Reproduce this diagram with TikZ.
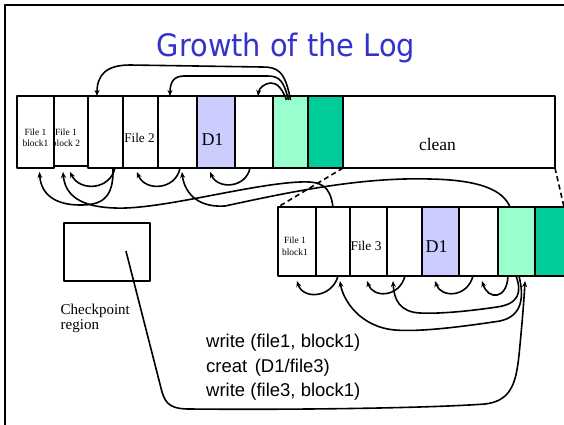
\documentclass[tikz,border=0pt]{standalone}
\usepackage{fontspec}
\setmainfont{Liberation Serif}
\newfontfamily\headfont{DejaVu Sans}
\newfontfamily\opsfont{Liberation Sans}
\usetikzlibrary{arrows.meta,calc}
\definecolor{titleblue}{RGB}{51,51,204}
\definecolor{dirblue}{RGB}{204,204,255}
\definecolor{livegreen}{RGB}{153,255,204}
\definecolor{tailgreen}{RGB}{0,204,153}
\tikzset{
  cell/.style={draw, line width=1.9pt, inner sep=0pt, outer sep=0pt,
               anchor=north west, minimum height=72pt},
  lcell/.style={cell, minimum height=69pt},
  ptr/.style={line width=1.6pt, -{Stealth[length=6pt,width=5pt]}},
  seam/.style={line width=1.6pt, dash pattern=on 5pt off 3.5pt},
  lbl/.style={inner sep=0pt, align=center},
}
\begin{document}
\begin{tikzpicture}[x=1pt, y=-1pt, line join=round]
  \clip (0,0) rectangle (564,424);
  \fill[white] (0,0) rectangle (564,424);
  % slide frame
  \draw[line width=2.2pt] (5,430) -- (5,5) -- (570,5);

  % title
  \node[anchor=base, inner sep=0pt, text=titleblue,
        font=\headfont\fontsize{31}{31}\selectfont, xscale=0.93]
        (title) at (286,56.5) {Growth of the Log};

  % ---------- log before the writes ----------
  \node[cell, minimum width=37pt] (u1) at (17,96) {};
  \node[cell, minimum width=34pt, minimum height=70pt] (u2) at (54,96) {};
  \node[cell, minimum width=35pt] (u3) at (88,96) {};
  \node[cell, minimum width=35pt] (u4) at (123,96) {};
  \node[cell, minimum width=39pt] (u5) at (158,96) {};
  \node[cell, minimum width=38pt, fill=dirblue] (u6) at (197,96) {};
  \node[cell, minimum width=38pt] (u7) at (235,96) {};
  \node[cell, minimum width=35pt, fill=livegreen] (u8) at (273,96) {};
  \node[cell, minimum width=35pt, fill=tailgreen] (u9) at (308,96) {};
  \node[cell, minimum width=212pt] (u10) at (343,96) {};

  \node[lbl, font=\fontsize{9.5}{11}\selectfont] (t1) at (35.5,137.5) {File 1\\block1};
  \begin{scope}
    \clip (55,96) rectangle (88,166);
    \node[lbl, font=\fontsize{9.5}{11}\selectfont] (t2) at (66,137.5) {File 1\\block 2};
  \end{scope}
  \node[lbl, anchor=base, font=\fontsize{13.2}{14}\selectfont] (t3) at (139.5,142.7) {File 2};
  \node[lbl, anchor=base, font=\fontsize{18}{20}\selectfont] (t4) at (212.5,145) {D1};
  \node[lbl, anchor=base, font=\fontsize{17.5}{20}\selectfont] (t5) at (437.5,150) {clean};

  % ---------- log after the writes ----------
  \node[lcell, minimum width=38pt] (l1) at (278,207) {};
  \node[lcell, minimum width=34pt] (l2) at (316,207) {};
  \node[lcell, minimum width=37pt] (l3) at (350,207) {};
  \node[lcell, minimum width=35pt] (l4) at (387,207) {};
  \node[lcell, minimum width=37pt, fill=dirblue] (l5) at (422,207) {};
  \node[lcell, minimum width=39pt] (l6) at (459,207) {};
  \node[lcell, minimum width=37pt, fill=livegreen] (l7) at (498,207) {};
  \node[lcell, minimum width=37pt, fill=tailgreen] (l8) at (535,207) {};

  \node[lbl, font=\fontsize{9.5}{12}\selectfont] (t6) at (295,246.7) {File 1\\block1};
  \node[lbl, anchor=base, font=\fontsize{13.4}{14}\selectfont] (t7) at (366,250.7) {File 3};
  \node[lbl, anchor=base, font=\fontsize{18}{20}\selectfont] (t8) at (436.5,252.3) {D1};

  % zoom lines from the clean region to the new log
  \coordinate (logend) at ($(l8.north)+(10.5,0)$);
  \draw[seam] (u9.south east) -- (l1.north west);
  \draw[seam] (u10.south east) -- (logend);

  % checkpoint region
  \node[draw, line width=1.9pt, minimum width=86pt, minimum height=58pt,
        anchor=north west, inner sep=0pt] (cp) at (63,222) {};
  \node[anchor=north west, inner sep=0pt, align=left,
        font=\fontsize{15}{15.5}\selectfont] (cptext) at (60.5,303.5) {Checkpoint\\region};

  % operations
  \node[anchor=north west, inner sep=0pt, align=left,
        font=\opsfont\fontsize{18.5}{24.5}\selectfont] (ops) at (206,334.2)
        {write (file1, block1)\\creat\hspace{7.5pt}(D1/file3)\\write (file3, block1)};

  % ---------- pointers of the old log ----------
  \draw[ptr] ($(u8.north)+(0,4)$) .. controls (285,70) and (277,67) .. (262,67)
        -- (130,65) .. controls (106,65) and (97,75) .. ($(u3.north)+(-8.5,0)$);
  \draw[ptr] ($(u8.north)+(-2,4)$) .. controls (284,82) and (280,76) .. (268,76)
        -- (184,76) .. controls (174,76) and (170,82) .. ($(u5.north)+(-7.5,0)$);
  \draw[ptr] ($(u8.north)+(-4,4)$) .. controls (282,88) and (277,83) .. (271,83)
        .. controls (265,83) and (259,88) .. ($(u7.north)+(4,0)$);

  \draw[ptr] ($(u3.south)+(7.5,0)$) .. controls (114,200) and (100,205) .. (80,205)
        .. controls (56,205) and (41,195) .. ($(u1.south)+(4,4)$);
  \draw[ptr] ($(u3.south)+(9.5,0)$) .. controls (110,190) and (80,192) .. ($(u2.south)+(-1,6)$);
  \draw[ptr] ($(u5.south)+(2.5,0)$) .. controls (176,190) and (145,192) .. ($(u4.south)+(-3.5,4)$);
  \draw[ptr] ($(u7.south)+(-4,0)$) .. controls (246,188) and (218,190) .. ($(u6.south)+(-6,4)$);

  % pointers from the new log back into the old one
  \draw[ptr] (l2.north) .. controls (330,186) and (322,181) .. (300,182)
        .. controls (250,184) and (160,210) .. (115,208)
        .. controls (80,207) and (65,195) .. ($(u2.south)+(-8,6)$);
  \draw[ptr] ($(l7.north)+(-6.5,0)$) .. controls (503,190) and (480,180) .. (430,179)
        .. controls (360,177) and (290,192) .. (225,206)
        .. controls (195,208) and (184,190) .. ($(u5.south)+(4.5,4)$);

  % ---------- pointers of the new log ----------
  \draw[ptr] ($(l2.south)+(5,0)$) .. controls (332,298) and (303,300) .. ($(l1.south)+(0,5)$);
  \draw[ptr] ($(l7.south)+(2.5,0)$) .. controls (524,296) and (523,316) .. (500,321)
        .. controls (460,327) and (420,332) .. (395,330)
        .. controls (360,327) and (343,300) .. ($(l2.south)+(7,5)$);
  \draw[ptr] ($(l4.south)+(0.5,0)$) .. controls (399,298) and (373,298) .. ($(l3.south)+(-1.5,5)$);
  \draw[ptr] ($(l7.south)+(-0.5,0)$) .. controls (522,292) and (519,304) .. (497,307)
        .. controls (470,311) and (440,314) .. (420,313)
        .. controls (400,312) and (394,300) .. ($(l4.south)+(-11.5,5)$);
  \draw[ptr] ($(l6.south)+(-5.5,0)$) .. controls (467,298) and (441,298) .. ($(l5.south)+(-5.5,5)$);
  \draw[ptr] ($(l7.south)+(-8.5,0)$) .. controls (507,300) and (488,300) .. ($(l6.south)+(3.5,5)$);

  % checkpoint pointer to the newest block
  \draw[ptr] ($(cp.center)+(19,-1)$) -- (162,392)
        .. controls (166,405) and (172,409) .. (190,409)
        .. controls (300,410) and (430,408) .. (485,404)
        .. controls (510,401) and (516,385) .. (519,355)
        .. controls (522,325) and (524,300) .. ($(l7.south)+(8.5,5)$);
\end{tikzpicture}
\end{document}
